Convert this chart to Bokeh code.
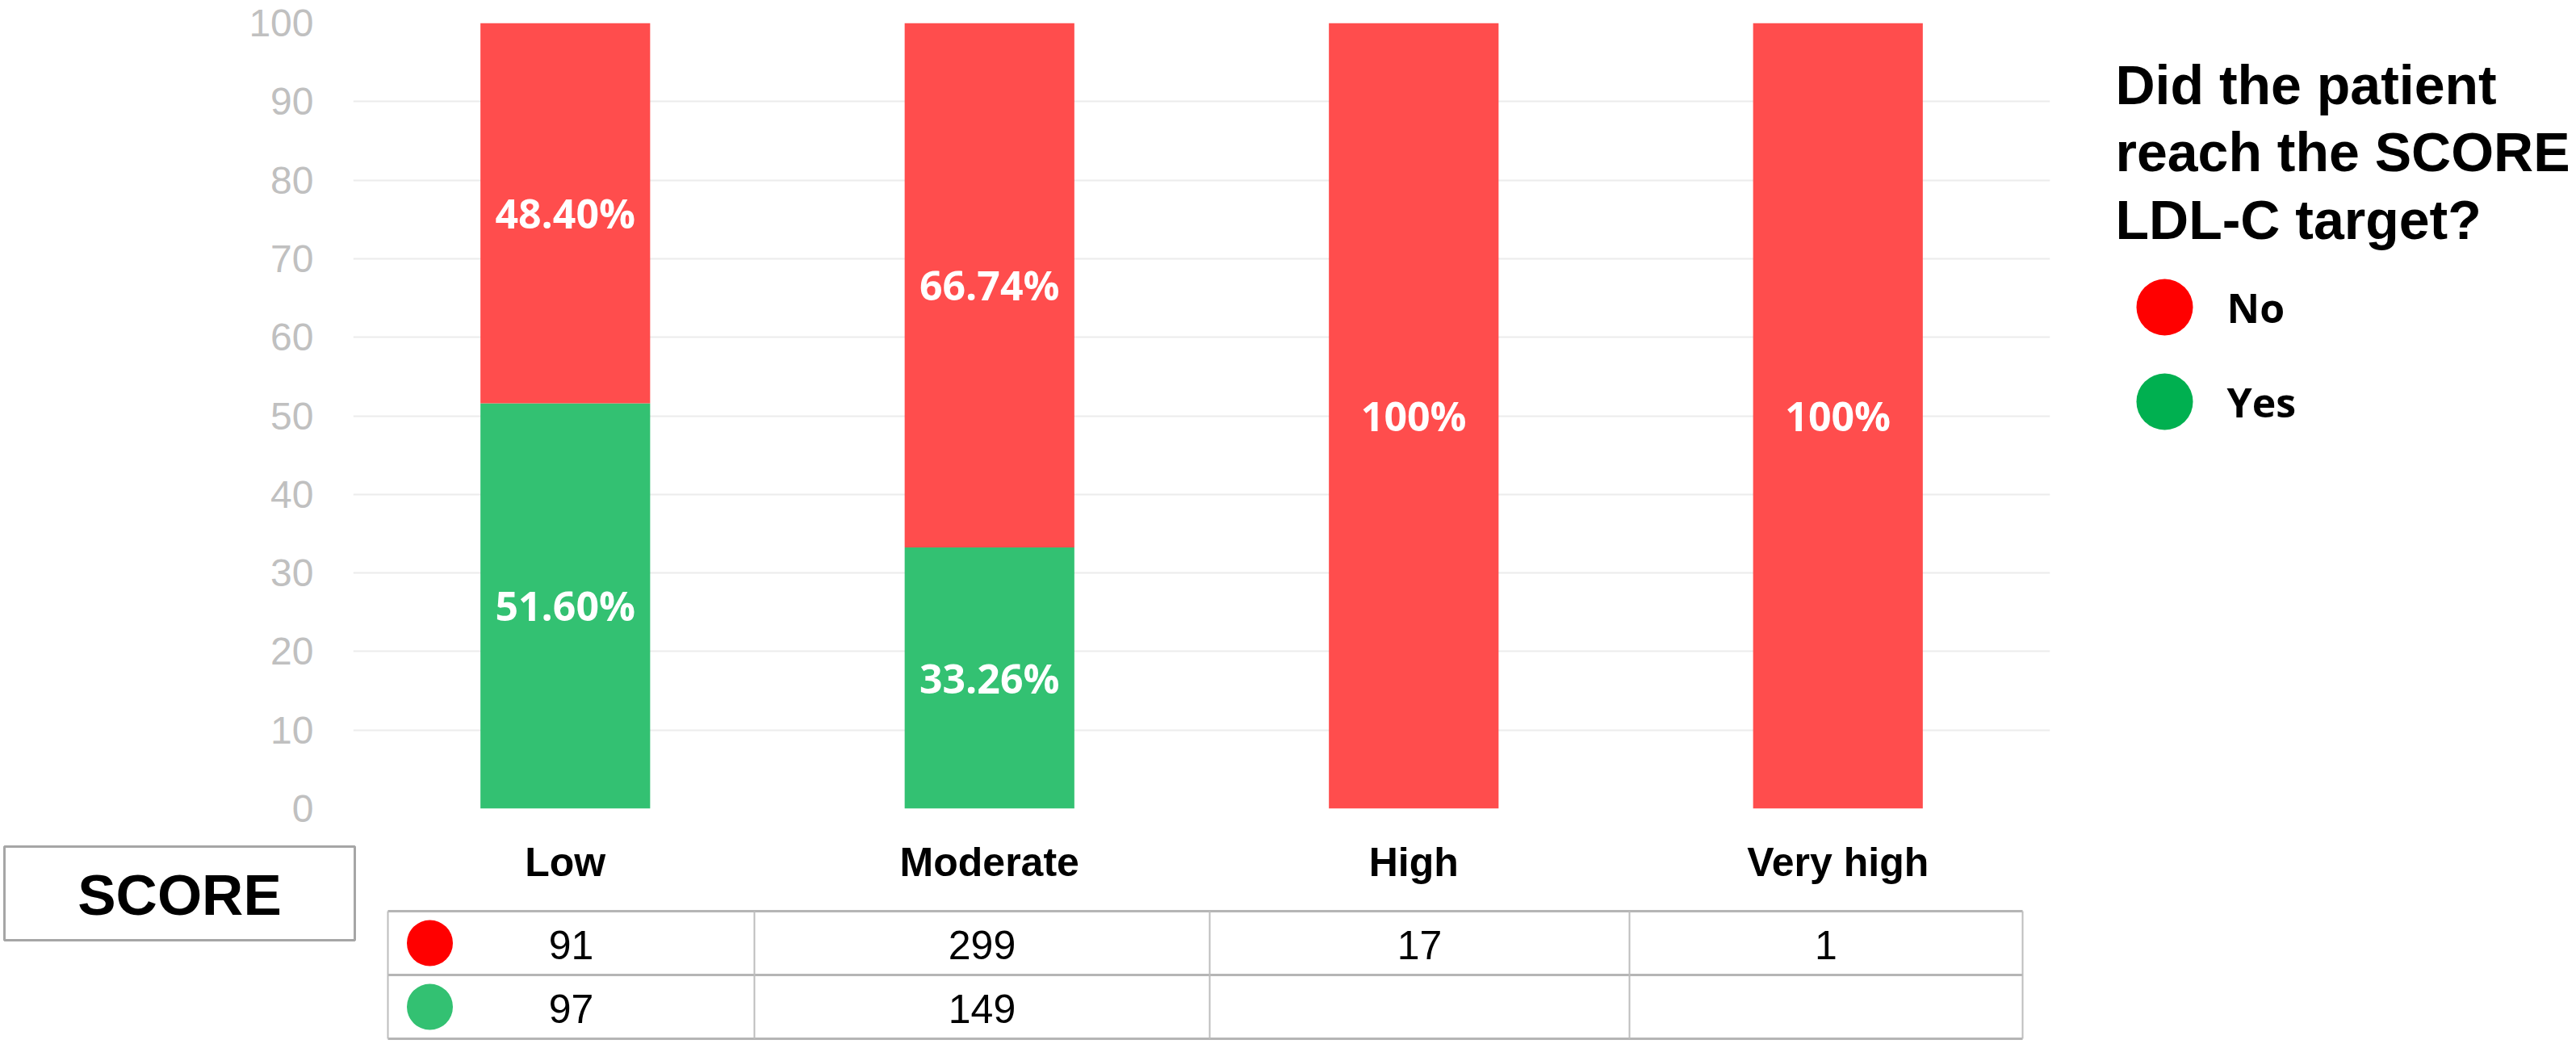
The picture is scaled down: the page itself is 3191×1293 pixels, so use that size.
from bokeh.plotting import figure
from bokeh.models import Range1d, FactorRange, FixedTicker, ColumnDataSource
from bokeh.core.properties import value
from bokeh.embed import file_html
from bokeh.resources import INLINE

# ---------------- data ----------------
categories = ["Low", "Moderate", "High", "Very high"]
count_no = [91, 299, 17, 1]
count_yes = [97, 149, 0, 0]
series_names = ["No", "Yes"]
y_ticks = [0, 10, 20, 30, 40, 50, 60, 70, 80, 90, 100]
legend_title = ["Did the patient", "reach the SCORE", "LDL-C target?"]
table_header = "SCORE"

# ---------------- styles / layout ----------------
RED_BAR = "#FF4D4D"
GREEN_BAR = "#33C172"
RED_DOT = "#FF0000"
GREEN_DOT_TABLE = "#33C172"
GREEN_DOT_LEGEND = "#00B050"
GRID = "#ececec"
TABLE_LINE = "#bdbdbd"

W, H = 3191, 1293
FL, FR, FT, FB = 437, 2539, 28, 1001          # frame in page pixels
TABLE_X = [480, 934, 1498, 2018, 2505]        # table column boundaries (page px)
TABLE_Y = [1128, 1207, 1286]                  # table row boundaries (page px)
DOT_X = 532
SCORE_BOX = (5, 439, 1048, 1164)
LEGEND_X = 2620
LEGEND_TITLE_Y = [104, 187, 271]
LEGEND_DOT_X, LEGEND_TEXT_X = 2681, 2758
LEGEND_ITEM_Y = [380, 497]

pct_no = [100.0 * n / (n + y) for n, y in zip(count_no, count_yes)]
pct_yes = [100.0 * y / (n + y) for n, y in zip(count_no, count_yes)]

UNIT = (FR - FL) / len(categories)


def sx(px):
    """page pixel -> synthetic categorical coordinate"""
    return (px - FL) / UNIT


def sxl(lst):
    return [sx(v) for v in lst]


def fmt(v):
    return "100%" if abs(v - 100) < 1e-9 else f"{v:.2f}%"


p = figure(
    width=W, height=H,
    x_range=FactorRange(*categories, range_padding=0),
    y_range=Range1d(0, 100),
    output_backend="svg", toolbar_location=None, title=None,
    min_border_left=FL, min_border_right=W - FR,
    min_border_top=FT, min_border_bottom=H - FB,
)
p.extra_y_ranges = {"px": Range1d(FB, FT)}
p.outline_line_color = None
p.background_fill_color = "white"
p.border_fill_color = "white"

p.xgrid.grid_line_color = None
p.ygrid.grid_line_color = GRID
p.ygrid.grid_line_width = 2

p.yaxis.ticker = FixedTicker(ticks=y_ticks)
p.yaxis.axis_line_color = None
p.yaxis.major_tick_line_color = None
p.yaxis.minor_tick_line_color = None
p.yaxis.major_tick_out = 0
p.yaxis.major_tick_in = 0
p.yaxis.major_label_standoff = 49
p.yaxis.major_label_text_font = "Liberation Sans"
p.yaxis.major_label_text_font_size = "48px"
p.yaxis.major_label_text_color = "#c0c0c0"

p.xaxis.axis_line_color = None
p.xaxis.major_tick_line_color = None
p.xaxis.major_tick_out = 0
p.xaxis.major_tick_in = 0
p.xaxis.major_label_standoff = 38
p.xaxis.major_label_text_font = "Liberation Sans"
p.xaxis.major_label_text_font_style = "bold"
p.xaxis.major_label_text_font_size = "50px"
p.xaxis.major_label_text_color = "black"

# ---------------- bars ----------------
bars = ColumnDataSource(dict(
    cat=categories,
    yes=pct_yes,
    total=[a + b for a, b in zip(pct_yes, pct_no)],
))
p.vbar(x="cat", bottom=0, top="yes", width=0.4, source=bars,
       fill_color=GREEN_BAR, line_color=None)
p.vbar(x="cat", bottom="yes", top="total", width=0.4, source=bars,
       fill_color=RED_BAR, line_color=None)

lab_x, lab_y, lab_t = [], [], []
for c, yv, nv in zip(categories, pct_yes, pct_no):
    if yv > 0:
        lab_x.append(c); lab_y.append(yv / 2); lab_t.append(fmt(yv))
    if nv > 0:
        lab_x.append(c); lab_y.append(yv + nv / 2); lab_t.append(fmt(nv))
p.text(x=lab_x, y=lab_y, text=lab_t, text_align="center", text_baseline="middle",
       text_color="white", text_font=value("Open Sans"), text_font_style="bold",
       text_font_size="50px")

# ---------------- outside-frame drawing ----------------
kw = dict(y_range_name="px", level="overlay")

# legend
p.text(x=sxl([LEGEND_X] * len(legend_title)), y=LEGEND_TITLE_Y, text=legend_title,
       text_align="left", text_baseline="middle", text_color="black",
       text_font=value("Liberation Sans"), text_font_style="bold",
       text_font_size="68px", **kw)
p.ellipse(x=sxl([LEGEND_DOT_X] * 2), y=LEGEND_ITEM_Y, width=70, height=70,
          width_units="screen", height_units="screen",
          fill_color=[RED_DOT, GREEN_DOT_LEGEND], line_color=None, **kw)
p.text(x=sxl([LEGEND_TEXT_X] * 2), y=LEGEND_ITEM_Y, text=series_names, text_align="left",
       text_baseline="middle", text_color="black", text_font=value("Open Sans"),
       text_font_style="bold", text_font_size="50px", **kw)

# SCORE box
l, r, t, b = SCORE_BOX
p.quad(left=[sx(l)], right=[sx(r)], top=[t], bottom=[b], fill_color=None,
       line_color="#a6a6a6", line_width=3, **kw)
p.text(x=[sx((l + r) / 2)], y=[(t + b) / 2 + 2], text=[table_header], text_align="center",
       text_baseline="middle", text_color="black", text_font=value("Liberation Sans"),
       text_font_style="bold", text_font_size="71px", **kw)

# table grid
p.segment(x0=sxl([TABLE_X[0]] * len(TABLE_Y)), x1=sxl([TABLE_X[-1]] * len(TABLE_Y)),
          y0=TABLE_Y, y1=TABLE_Y, line_color="#b5b5b5", line_width=3, **kw)
p.segment(x0=sxl(TABLE_X), x1=sxl(TABLE_X), y0=[TABLE_Y[0]] * len(TABLE_X),
          y1=[TABLE_Y[-1]] * len(TABLE_X), line_color=TABLE_LINE, line_width=2, **kw)

row_y = [(TABLE_Y[i] + TABLE_Y[i + 1]) / 2 for i in range(2)]
col_x = [(TABLE_X[i] + TABLE_X[i + 1]) / 2 for i in range(len(categories))]
p.ellipse(x=sxl([DOT_X, DOT_X]), y=row_y, width=57, height=57,
          width_units="screen", height_units="screen",
          fill_color=[RED_DOT, GREEN_DOT_TABLE], line_color=None, **kw)

tx, ty, tt = [], [], []
for i in range(len(categories)):
    tx.append(sx(col_x[i])); ty.append(row_y[0]); tt.append(str(count_no[i]))
    if count_yes[i] > 0:
        tx.append(sx(col_x[i])); ty.append(row_y[1]); tt.append(str(count_yes[i]))
p.text(x=tx, y=[v + 2 for v in ty], text=tt, text_align="center", text_baseline="middle",
       text_color="black", text_font=value("Liberation Sans"), text_font_size="50px", **kw)

open("out.html", "w").write(file_html(p, INLINE))
